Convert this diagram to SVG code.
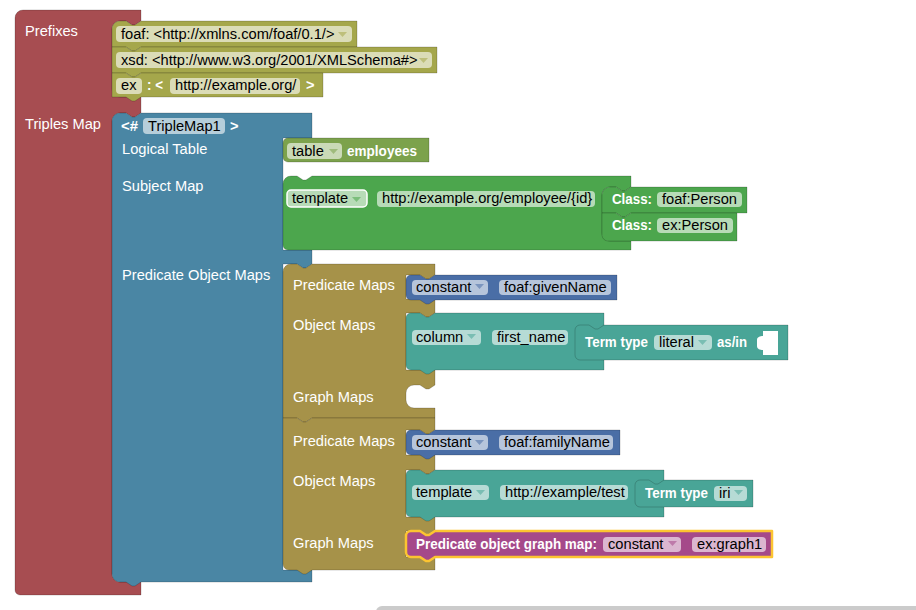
<svg xmlns="http://www.w3.org/2000/svg" width="916" height="610" viewBox="0 0 916 610">
<style>
text{font-family:"Liberation Sans",Arial,Helvetica,sans-serif;font-size:14.67px}
.lbl{fill:#fff}
.bl{fill:#fff;font-weight:bold}
.ft{fill:#000}
.fld{fill:#fff;fill-opacity:0.6}
.blk{stroke:#000;stroke-opacity:0.18;stroke-width:1}
.arr{fill-opacity:0.55}
.red{fill:#A74D51}.pre{fill:#A5A74B}.tm{fill:#4A86A4}.lt{fill:#7CA24C}.sm{fill:#4CA64D}
.po{fill:#A69249}.pm{fill:#4A6EA6}.om{fill:#49A597}.gm{fill:#A5498A}
</style>
<rect width="916" height="610" fill="#fff"/>
<g id="connectors"/>

<g id="prefixes-triples">
<path class="red blk" d="M15,18 A8,8 0 0 1 23,10 H141 V21 l-6,4 -3,0 -6,-4 H120 A8,8 0 0 0 112,29 V89 A8,8 0 0 0 120,97 H141 V113 l-6,4 -3,0 -6,-4 H120 A8,8 0 0 0 112,121 V574 A8,8 0 0 0 120,582 H141 V595 H20 A5,5 0 0 1 15,590 Z"/>
<text class="lbl" x="25" y="36">Prefixes</text>
<text class="lbl" x="25" y="129">Triples Map</text>
</g>

<g id="prefix-foaf">
<path class="pre blk" d="M112,29 A8,8 0 0 1 120,21 H126 l6,4 3,0 6,-4 H357 V47 H141 l-6,4 -3,0 -6,-4 H112 Z"/>
<rect class="fld" x="116" y="26" width="236" height="16" rx="4"/>
<text class="ft" x="121" y="39">foaf: &lt;http://xmlns.com/foaf/0.1/&gt;</text>
<path class="pre arr" d="M338,32 h9 l-4.5,5 z"/>
</g>

<g id="prefix-xsd">
<path class="pre blk" d="M112,47 H126 l6,4 3,0 6,-4 H437 V73 H141 l-6,4 -3,0 -6,-4 H112 Z"/>
<rect class="fld" x="116" y="52" width="316" height="16" rx="4"/>
<text class="ft" x="121" y="65">xsd: &lt;http://www.w3.org/2001/XMLSchema#&gt;</text>
<path class="pre arr" d="M419,58 h9 l-4.5,5 z"/>
</g>

<g id="prefix-ex">
<path class="pre blk" d="M112,73 H126 l6,4 3,0 6,-4 H323 V97 H141 l-6,4 -3,0 -6,-4 H112 Z"/>
<rect class="fld" x="116" y="78" width="26" height="16" rx="4"/>
<text class="ft" x="121" y="90">ex</text>
<text class="bl" x="147" y="90" textLength="16" lengthAdjust="spacingAndGlyphs">: &lt;</text>
<rect class="fld" x="170" y="78" width="130" height="16" rx="4"/>
<text class="ft" x="175" y="90">http://example.org/</text>
<text class="bl" x="306" y="90">&gt;</text>
</g>

<g id="triples-map">
<path class="tm blk" d="M112,121 A8,8 0 0 1 120,113 H126 l6,4 3,0 6,-4 H312 V138 H283 V250 H312 V264 l-6,4 -3,0 -6,-4 H283 V570 H312 V582 H141 l-6,4 -3,0 -6,-4 H120 A8,8 0 0 1 112,574 Z"/>
<text class="bl" x="121" y="131" textLength="17" lengthAdjust="spacingAndGlyphs">&lt;#</text>
<rect class="fld" x="143" y="118" width="82" height="16" rx="4"/>
<text class="ft" x="148" y="131">TripleMap1</text>
<text class="bl" x="230" y="131">&gt;</text>
<text class="lbl" x="122" y="154">Logical Table</text>
<text class="lbl" x="122" y="191">Subject Map</text>
<text class="lbl" x="122" y="280">Predicate Object Maps</text>
</g>

<g id="logical-table">
<path class="lt blk" d="M283,143 A5,5 0 0 1 288,138 H429 V162 H288 A5,5 0 0 1 283,157 Z"/>
<rect class="fld" x="287" y="143" width="55" height="16" rx="4"/>
<text class="ft" x="292" y="156">table</text>
<path class="lt arr" d="M329,149 h9 l-4.5,5 z"/>
<text class="bl" x="347" y="156" textLength="70" lengthAdjust="spacingAndGlyphs">employees</text>
</g>

<g id="subject-map">
<path class="sm blk" d="M283,184 A8,8 0 0 1 291,176 H297 l6,4 3,0 6,-4 H631 V187 l-6,4 -3,0 -6,-4 H610 A8,8 0 0 0 602,195 V233 A8,8 0 0 0 610,241 H631 V250 H288 A5,5 0 0 1 283,245 Z"/>
<rect class="fld" x="287" y="190" width="80" height="17" rx="4" stroke="#fff" stroke-width="1.5"/>
<text class="ft" x="292" y="203">template</text>
<path class="sm arr" d="M352,197 h9 l-4.5,5 z"/>
<rect class="fld" x="377" y="191" width="218" height="16" rx="4"/>
<text class="ft" x="382" y="203">http://example.org/employee/{id}</text>
</g>

<g id="class-foaf-person">
<path class="sm blk" d="M602,195 A8,8 0 0 1 610,187 H616 l6,4 3,0 6,-4 H747 V213 H631 l-6,4 -3,0 -6,-4 H602 Z"/>
<text class="bl" x="612" y="204" textLength="40" lengthAdjust="spacingAndGlyphs">Class:</text>
<rect class="fld" x="657" y="192" width="85" height="15" rx="4"/>
<text class="ft" x="662" y="204">foaf:Person</text>
</g>

<g id="class-ex-person">
<path class="sm blk" d="M602,213 H616 l6,4 3,0 6,-4 H737 V241 H608 A6,6 0 0 1 602,235 Z"/>
<text class="bl" x="612" y="230" textLength="40" lengthAdjust="spacingAndGlyphs">Class:</text>
<rect class="fld" x="657" y="218" width="76" height="15" rx="4"/>
<text class="ft" x="662" y="230">ex:Person</text>
</g>

<g id="pom-1">
<path class="po blk" d="M283,272 A8,8 0 0 1 291,264 H297 l6,4 3,0 6,-4 H435 V275 l-6,4 -3,0 -6,-4 H406 V299 H435 V313 l-6,4 -3,0 -6,-4 H406 V370 H435 V385 l-6,4 -3,0 -6,-4 H414 A8,8 0 0 0 406,393 V400 A8,8 0 0 0 414,408 H435 V418 H312 l-6,4 -3,0 -6,-4 H283 Z"/>
<text class="lbl" x="293" y="290">Predicate Maps</text>
<text class="lbl" x="293" y="330">Object Maps</text>
<text class="lbl" x="293" y="402">Graph Maps</text>
</g>

<g id="predicate-map-1">
<path class="pm blk" d="M406,280 A5,5 0 0 1 411,275 H420 l6,4 3,0 6,-4 H617 V300 H435 l-6,4 -3,0 -6,-4 H411 A5,5 0 0 1 406,295 Z"/>
<rect class="fld" x="412" y="280" width="76" height="15" rx="4"/>
<text class="ft" x="416" y="292">constant</text>
<path class="pm arr" d="M475,284 h9 l-4.5,5 z"/>
<rect class="fld" x="499" y="280" width="112" height="15" rx="4"/>
<text class="ft" x="504" y="292">foaf:givenName</text>
</g>

<g id="object-map-1">
<path class="om blk" d="M406,318 A5,5 0 0 1 411,313 H420 l6,4 3,0 6,-4 H604 V370 H435 l-6,4 -3,0 -6,-4 H411 A5,5 0 0 1 406,365 Z"/>
<rect class="fld" x="412" y="330" width="69" height="15" rx="4"/>
<text class="ft" x="416" y="342">column</text>
<path class="om arr" d="M467,334 h9 l-4.5,5 z"/>
<rect class="fld" x="492" y="330" width="76" height="15" rx="4"/>
<text class="ft" x="497" y="342">first_name</text>
</g>

<g id="term-type-1">
<path class="om blk" d="M575,330 A5,5 0 0 1 580,325 H589 l6,4 3,0 6,-4 H788 V360 H580 A5,5 0 0 1 575,355 Z"/>
<text class="bl" x="585" y="347" textLength="63" lengthAdjust="spacingAndGlyphs">Term type</text>
<rect class="fld" x="654" y="335" width="58" height="15" rx="4"/>
<text class="ft" x="659" y="347">literal</text>
<path class="om arr" d="M698,340 h9 l-4.5,5 z"/>
<text class="bl" x="717" y="347" textLength="30" lengthAdjust="spacingAndGlyphs">as/in</text>
<path fill="#fff" d="M763,331 H778 V355 H763 V350 c-3,0 -6,-1 -6,-4 V340 c0,-3 3,-4 6,-4 Z"/>
</g>

<g id="pom-2">
<path class="po blk" d="M283,418 H297 l6,4 3,0 6,-4 H435 V430 l-6,4 -3,0 -6,-4 H406 V455 H435 V470 l-6,4 -3,0 -6,-4 H406 V517 H435 V531 l-6,4 -3,0 -6,-4 H406 V557 H435 V570 H312 l-6,4 -3,0 -6,-4 H289 A6,6 0 0 1 283,564 Z"/>
<text class="lbl" x="293" y="446">Predicate Maps</text>
<text class="lbl" x="293" y="486">Object Maps</text>
<text class="lbl" x="293" y="548">Graph Maps</text>
</g>

<g id="predicate-map-2">
<path class="pm blk" d="M406,435 A5,5 0 0 1 411,430 H420 l6,4 3,0 6,-4 H620 V455 H435 l-6,4 -3,0 -6,-4 H411 A5,5 0 0 1 406,450 Z"/>
<rect class="fld" x="412" y="435" width="76" height="15" rx="4"/>
<text class="ft" x="416" y="447">constant</text>
<path class="pm arr" d="M475,440 h9 l-4.5,5 z"/>
<rect class="fld" x="499" y="435" width="114" height="15" rx="4"/>
<text class="ft" x="504" y="447">foaf:familyName</text>
</g>

<g id="object-map-2">
<path class="om blk" d="M406,475 A5,5 0 0 1 411,470 H420 l6,4 3,0 6,-4 H664 V517 H435 l-6,4 -3,0 -6,-4 H411 A5,5 0 0 1 406,512 Z"/>
<rect class="fld" x="412" y="485" width="77" height="15" rx="4"/>
<text class="ft" x="416" y="497">template</text>
<path class="om arr" d="M476,490 h9 l-4.5,5 z"/>
<rect class="fld" x="500" y="485" width="128" height="15" rx="4"/>
<text class="ft" x="505" y="497">http://example/test</text>
</g>

<g id="term-type-2">
<path class="om blk" d="M635,485 A5,5 0 0 1 640,480 H649 l6,4 3,0 6,-4 H753 V507 H640 A5,5 0 0 1 635,502 Z"/>
<text class="bl" x="645" y="498" textLength="63" lengthAdjust="spacingAndGlyphs">Term type</text>
<rect class="fld" x="714" y="486" width="33" height="15" rx="4"/>
<text class="ft" x="719" y="498">iri</text>
<path class="om arr" d="M734,490 h9 l-4.5,5 z"/>
</g>

<g id="graph-map">
<path class="gm" stroke="#FCC431" stroke-width="2.5" stroke-linejoin="round" d="M406,536 A5,5 0 0 1 411,531 H420 l6,4 3,0 6,-4 H772 V557 H435 l-6,4 -3,0 -6,-4 H411 A5,5 0 0 1 406,552 Z"/>
<text class="bl" x="416" y="549" textLength="181" lengthAdjust="spacingAndGlyphs">Predicate object graph map:</text>
<rect class="fld" x="603" y="537" width="78" height="15" rx="4"/>
<text class="ft" x="608" y="549">constant</text>
<path class="gm arr" d="M668,541 h9 l-4.5,5 z"/>
<rect class="fld" x="692" y="537" width="74" height="15" rx="4"/>
<text class="ft" x="697" y="549">ex:graph1</text>
</g>

<rect x="376" y="606" width="560" height="12" rx="6" fill="#cbcbcb"/>
</svg>
